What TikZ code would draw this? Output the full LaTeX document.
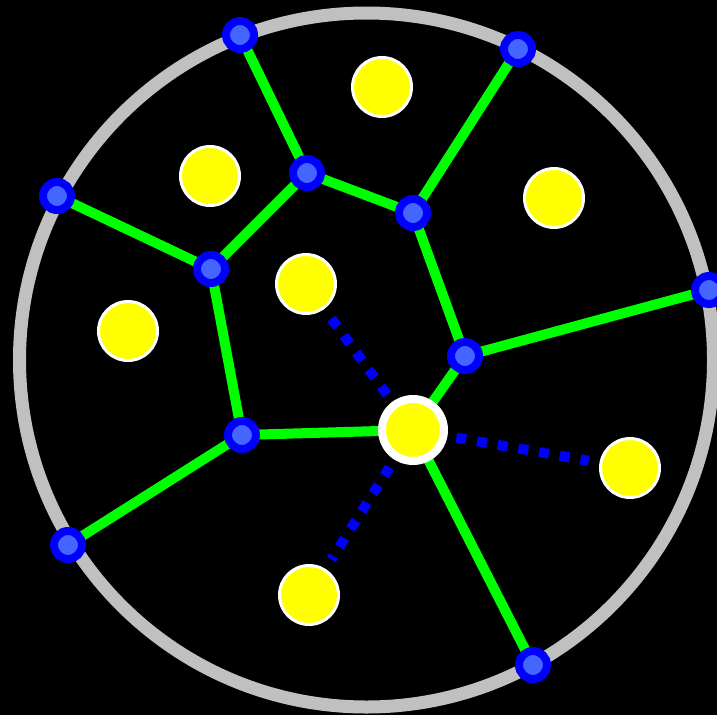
\documentclass[tikz,border=0pt]{standalone}
\usepackage{tikz}

\definecolor{ringgray}{RGB}{192,192,192}
\definecolor{edgegreen}{RGB}{0,255,0}
\definecolor{vtxblue}{RGB}{0,0,255}
\definecolor{vtxlight}{RGB}{68,102,255}
\definecolor{siteyellow}{RGB}{255,255,0}

\pgfdeclarelayer{back}
\pgfdeclarelayer{edges}
\pgfsetlayers{back,edges,main}

\begin{document}
\begin{tikzpicture}[x=1pt, y=-1pt,
        vtx/.style={circle, inner sep=0pt, minimum size=28pt, draw=vtxblue, line width=8pt, fill=vtxlight},
        site/.style={circle, inner sep=0pt, minimum size=59pt, draw=white, line width=3pt, fill=siteyellow},
        bigsite/.style={circle, inner sep=0pt, minimum size=62pt, draw=white, line width=8pt, fill=siteyellow},
        cell/.style={edgegreen, line width=10pt},
        link/.style={vtxblue, line width=10pt, dash pattern=on 10pt off 11pt, shorten <=9pt, shorten >=11pt}]
        \useasboundingbox (0,0) rectangle (717,715);
        \begin{pgfonlayer}{back}
        \fill[black] (0,0) rectangle (717,715);
        \draw[ringgray, line width=13pt] (366.5,360) circle (347);
        \end{pgfonlayer}

        % voronoi vertices
        \node[vtx] (a) at (240,35) {};
        \node[vtx] (b) at (518,49) {};
        \node[vtx] (c) at (57,196) {};
        \node[vtx] (d) at (307,173) {};
        \node[vtx] (e) at (413,213) {};
        \node[vtx] (f) at (211,269) {};
        \node[vtx] (g) at (709,290) {};
        \node[vtx] (h) at (465,356) {};
        \node[vtx] (i) at (242,435) {};
        \node[vtx] (j) at (68,545) {};
        \node[vtx] (k) at (533,665) {};

        % sites
        \node[site] (s1) at (382,87) {};
        \node[site] (s2) at (210,176) {};
        \node[site] (s3) at (554,198) {};
        \node[site] (s4) at (306,284) {};
        \node[site] (s5) at (128,331) {};
        \node[site] (s6) at (630,468) {};
        \node[site] (s7) at (309,595) {};
        \node[bigsite] (q) at (413,430) {};

        \begin{pgfonlayer}{edges}
        \draw[cell] (a.center) -- (d.center) -- (e.center) -- (b.center);
        \draw[cell] (c.center) -- (f.center) -- (d.center);
        \draw[cell] (f.center) -- (i.center) -- (j.center);
        \draw[cell] (e.center) -- (h.center) -- (g.center);
        \draw[cell] (i.center) -- (q.center);
        \draw[cell] (h.center) -- (q.center) -- (k.center);
        \end{pgfonlayer}

        % links from the new site
        \draw[link] (q) -- (s4);
        \draw[link] (q) -- (s6);
        \draw[link] (q) -- (s7);
\end{tikzpicture}
\end{document}
